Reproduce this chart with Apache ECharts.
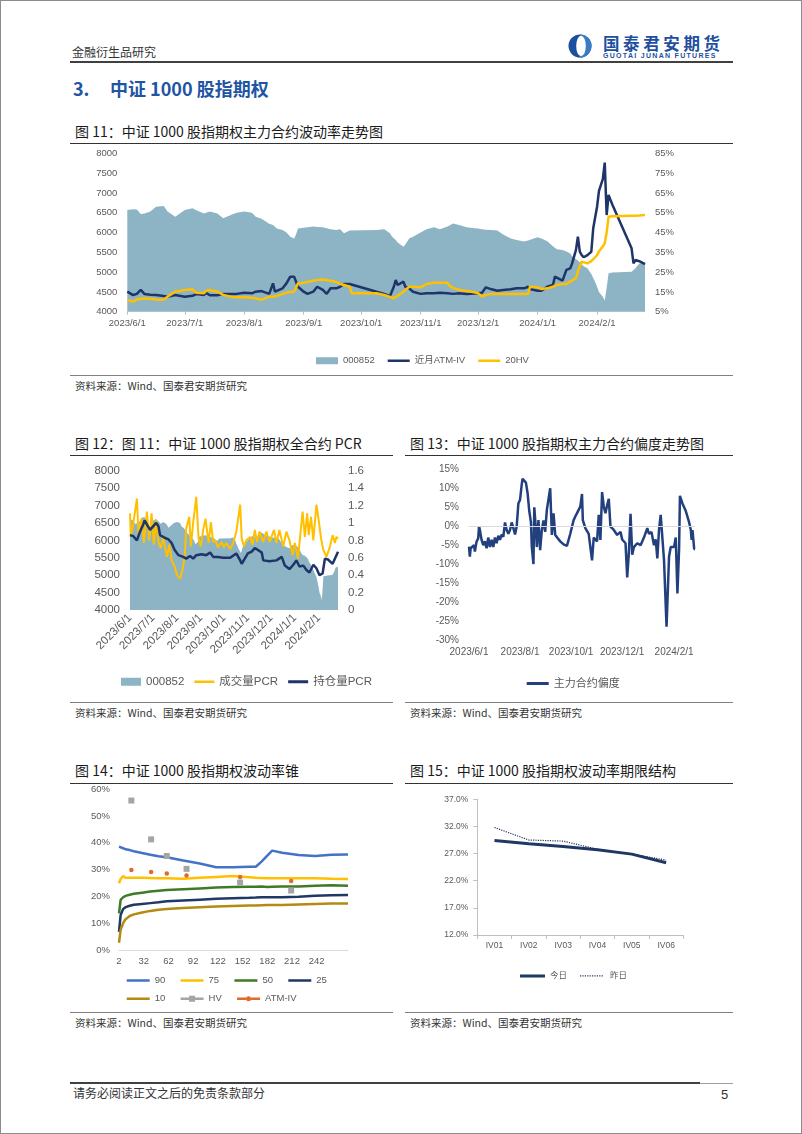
<!DOCTYPE html>
<html lang="zh-CN">
<head>
<meta charset="utf-8">
<title>中证1000股指期权</title>
<script src="https://cdn.jsdelivr.net/npm/echarts@6.0.0/dist/echarts.min.js"></script>
<style>
html,body{margin:0;padding:0;background:#fff;}
body{width:802px;height:1134px;position:relative;overflow:hidden;font-family:"Noto Sans CJK SC","Noto Sans",sans-serif;color:#222;}
#frame{position:absolute;left:0;top:0;width:800px;height:1132px;border:1px solid #8c8c8c;}
.t{position:absolute;white-space:nowrap;line-height:1;transform:translateY(-50%);}
.r{position:absolute;}
.c{position:absolute;}
</style>
</head>
<body>
<div id="frame"></div>

<div class="t" style="left:72px;top:52px;font-size:12px;color:#333;">金融衍生品研究</div>
<svg class="r" style="left:568px;top:34px" width="24" height="24" viewBox="0 0 24 24">
  <circle cx="12" cy="12" r="11.5" fill="#1c4f9f"/>
  <path d="M12 0.5 A11.5 11.5 0 0 1 12 23.5 Z" fill="#3a7cc4"/>
  <ellipse cx="13" cy="12" rx="4.8" ry="10.2" fill="#fff"/>
</svg>
<div class="t" style="left:603px;top:42.5px;font-size:16.5px;font-weight:bold;letter-spacing:3.6px;color:#1e4fa0;">国泰君安期货</div>
<div class="t" style="left:603px;top:55px;font-size:7px;font-weight:bold;letter-spacing:1.3px;color:#1e4fa0;font-family:'Liberation Sans',sans-serif;">GUOTAI JUNAN FUTURES</div>
<div class="r" style="left:70px;top:61px;width:663px;height:1.5px;background:#404040;"></div>

<div class="t" style="left:73px;top:88px;font-size:18px;font-weight:bold;color:#2155a4;">3.</div>
<div class="t" style="left:110px;top:88px;font-size:18px;font-weight:bold;color:#2155a4;">中证 1000 股指期权</div>

<div class="t" style="left:75px;top:131px;font-size:14px;color:#1a1a1a;">图 11：中证 1000 股指期权主力合约波动率走势图</div>
<div class="r" style="left:70px;top:142.5px;width:663px;height:1.5px;background:#333;"></div>
<div id="c11" class="c" style="left:70px;top:145px;width:663px;height:228px;"></div>
<div class="r" style="left:70px;top:375px;width:663px;height:1px;background:#808080;"></div>
<div class="t" style="left:75px;top:386px;font-size:10.5px;color:#333;">资料来源：Wind、国泰君安期货研究</div>

<div class="t" style="left:75px;top:443px;font-size:14px;color:#1a1a1a;">图 12：图 11：中证 1000 股指期权全合约 PCR</div>
<div class="t" style="left:410px;top:443px;font-size:14px;color:#1a1a1a;">图 13：中证 1000 股指期权主力合约偏度走势图</div>
<div class="r" style="left:70px;top:454.5px;width:323px;height:1.5px;background:#333;"></div>
<div class="r" style="left:405px;top:454.5px;width:328px;height:1.5px;background:#333;"></div>
<div id="c12" class="c" style="left:70px;top:458px;width:323px;height:240px;"></div>
<div id="c13" class="c" style="left:405px;top:458px;width:328px;height:240px;"></div>
<div class="r" style="left:70px;top:702px;width:323px;height:1px;background:#808080;"></div>
<div class="r" style="left:405px;top:702px;width:328px;height:1px;background:#808080;"></div>
<div class="t" style="left:75px;top:713px;font-size:10.5px;color:#333;">资料来源：Wind、国泰君安期货研究</div>
<div class="t" style="left:410px;top:713px;font-size:10.5px;color:#333;">资料来源：Wind、国泰君安期货研究</div>

<div class="t" style="left:75px;top:770px;font-size:14px;color:#1a1a1a;">图 14：中证 1000 股指期权波动率锥</div>
<div class="t" style="left:410px;top:770px;font-size:14px;color:#1a1a1a;">图 15：中证 1000 股指期权波动率期限结构</div>
<div class="r" style="left:70px;top:782.5px;width:323px;height:1.5px;background:#333;"></div>
<div class="r" style="left:405px;top:782.5px;width:328px;height:1.5px;background:#333;"></div>
<div id="c14" class="c" style="left:70px;top:775px;width:323px;height:235px;"></div>
<div id="c15" class="c" style="left:405px;top:785px;width:328px;height:220px;"></div>
<div class="r" style="left:70px;top:1012px;width:323px;height:1px;background:#808080;"></div>
<div class="r" style="left:405px;top:1012px;width:328px;height:1px;background:#808080;"></div>
<div class="t" style="left:75px;top:1023px;font-size:10.5px;color:#333;">资料来源：Wind、国泰君安期货研究</div>
<div class="t" style="left:410px;top:1023px;font-size:10.5px;color:#333;">资料来源：Wind、国泰君安期货研究</div>

<div class="r" style="left:70px;top:1082px;width:630px;height:1.5px;background:#404040;"></div>
<div class="r" style="left:700px;top:1082.5px;width:33px;height:1px;background:#a0a0a0;"></div>
<div class="t" style="left:73px;top:1093px;font-size:12px;color:#333;">请务必阅读正文之后的免责条款部分</div>
<div class="t" style="left:721px;top:1094px;font-size:13px;color:#333;font-family:'Liberation Sans',sans-serif;">5</div>

<script>
// ---------- Figure 11: index + near-month ATM IV + 20HV ----------
const dates11 = ['2023-06-01','2023-06-04','2023-06-06','2023-06-08','2023-06-10','2023-06-13','2023-06-16','2023-06-20','2023-06-22','2023-06-26',
'2023-07-01','2023-07-05','2023-07-07','2023-07-11','2023-07-12','2023-07-14','2023-07-18','2023-07-21','2023-07-25','2023-07-28',
'2023-08-01','2023-08-05','2023-08-07','2023-08-10','2023-08-14','2023-08-16','2023-08-17','2023-08-18','2023-08-21','2023-08-23','2023-08-25','2023-08-27','2023-08-28','2023-08-29',
'2023-09-01','2023-09-03','2023-09-06','2023-09-08','2023-09-11','2023-09-13','2023-09-15','2023-09-18','2023-09-20','2023-09-22','2023-09-25','2023-09-26',
'2023-10-09','2023-10-13','2023-10-16','2023-10-17','2023-10-18','2023-10-19','2023-10-20','2023-10-23','2023-10-24','2023-10-26','2023-10-28',
'2023-11-01','2023-11-04','2023-11-08','2023-11-11','2023-11-15','2023-11-16','2023-11-18','2023-11-21','2023-11-25','2023-11-29',
'2023-12-01','2023-12-03','2023-12-05','2023-12-08','2023-12-11','2023-12-14','2023-12-18','2023-12-21','2023-12-25','2023-12-27','2023-12-28',
'2024-01-01','2024-01-03','2024-01-06','2024-01-09','2024-01-10','2024-01-11','2024-01-14','2024-01-15','2024-01-16','2024-01-18','2024-01-19','2024-01-21','2024-01-22','2024-01-23','2024-01-24','2024-01-25','2024-01-27','2024-01-29','2024-01-30','2024-01-31',
'2024-02-01','2024-02-02','2024-02-04','2024-02-05','2024-02-06','2024-02-07','2024-02-08','2024-02-09','2024-02-19','2024-02-20','2024-02-21','2024-02-22','2024-02-23','2024-02-26'];
const index000852 = [6570,6590,6580,6470,6480,6530,6650,6670,6530,6400,
6570,6610,6560,6480,6510,6530,6480,6360,6440,6500,
6530,6500,6400,6350,6220,6190,6150,6100,6060,6000,5890,5850,5950,6100,
6120,6130,6150,6140,6130,6110,6080,6060,6080,5980,6050,6050,
6060,6080,5980,5900,5850,5810,5750,5640,5700,5850,5890,
6000,6080,6130,6080,6150,6200,6230,6190,6130,6110,
6100,6080,6070,6060,6050,5950,5850,5810,5770,5800,5850,
5880,5850,5780,5650,5620,5580,5560,5560,5520,5470,5400,5330,5300,5250,5200,5150,5100,4950,4850,4750,
4630,4500,4380,4280,4600,4970,4990,4990,5010,5050,5100,5150,5220,5240];
const atmIV = [15.1,13.4,14.0,16.0,13.9,13.6,13.4,12.9,12.6,13.4,
12.6,13.0,13.9,13.4,14.6,13.3,13.3,14.0,14.0,14.0,
14.6,14.3,15.1,15.4,14.0,19.3,15.1,16.0,16.8,19.3,22.7,22.7,22.7,17.6,
15.1,14.0,15.1,17.6,16.0,14.0,16.8,16.8,17.6,19.0,19.0,18.6,
15.1,14.0,12.9,12.9,17.6,21.0,18.5,20.2,17.6,16.8,15.1,
14.0,14.3,14.3,14.6,14.3,14.0,14.0,14.3,14.0,14.2,
14.3,14.6,17.3,16.3,15.6,16.0,16.3,16.8,16.8,17.6,16.5,
15.6,15.6,17.6,18.5,22.7,21.8,20.7,20.2,26.1,26.9,29.4,36.2,42.9,35.3,33.6,32.5,33.6,35.3,47.1,47.1,
58.0,66.0,72.0,80.3,53.8,64.0,61.5,59.0,37.0,29.4,31.1,31.4,30.5,29.0];
const hv20 = [11.0,10.1,11.2,11.5,11.7,11.5,11.2,11.0,12.6,15.1,
16.0,16.3,14.6,14.3,15.5,16.0,15.1,13.5,12.6,12.3,
12.3,12.0,11.7,11.0,12.6,12.6,12.6,13.0,14.0,14.6,15.0,15.1,15.1,19.3,
19.6,20.0,20.7,21.0,21.3,21.0,20.6,20.0,19.0,18.5,17.6,14.3,
14.3,13.4,12.5,11.7,11.8,12.2,13.0,15.1,16.0,17.6,17.6,
17.3,19.0,19.6,19.6,19.6,18.0,17.0,16.0,15.5,14.8,
14.3,12.6,13.5,14.0,14.0,14.0,14.0,14.0,14.0,14.0,17.6,
17.3,16.5,16.8,17.6,18.0,18.5,19.0,19.0,19.0,20.2,20.2,22.0,25.2,28.0,30.3,30.0,29.4,30.5,31.1,32.5,
33.6,35.5,38.0,39.5,45.0,53.0,53.2,53.2,53.5,53.5,53.5,53.6,53.6,53.8];

// ---------- Figure 12: PCR ----------
const datesOI = ['2023-06-01','2023-06-05','2023-06-10','2023-06-14','2023-06-18','2023-06-20','2023-06-23','2023-06-27',
'2023-07-01','2023-07-05','2023-07-08','2023-07-10','2023-07-16','2023-07-21','2023-07-25','2023-07-29',
'2023-08-03','2023-08-09','2023-08-13','2023-08-18','2023-08-22','2023-08-26',
'2023-09-02','2023-09-08','2023-09-13','2023-09-17','2023-09-23','2023-09-30',
'2023-10-09','2023-10-17','2023-10-22','2023-10-24','2023-10-28',
'2023-11-01','2023-11-06','2023-11-10','2023-11-14','2023-11-19','2023-11-21','2023-11-29',
'2023-12-08','2023-12-15','2023-12-19','2023-12-25','2023-12-30',
'2024-01-03','2024-01-07','2024-01-12','2024-01-16','2024-01-20','2024-01-25','2024-01-29',
'2024-02-02','2024-02-06','2024-02-09','2024-02-13','2024-02-19','2024-02-24','2024-02-26'];
const pcrOI = [0.86,0.85,0.80,0.90,0.98,1.03,0.98,0.92,
0.96,1.00,0.96,0.86,0.83,0.81,0.77,0.69,
0.63,0.61,0.59,0.62,0.59,0.63,
0.64,0.63,0.66,0.61,0.61,0.60,
0.60,0.65,0.57,0.53,0.59,
0.65,0.67,0.71,0.69,0.66,0.57,0.56,
0.57,0.61,0.51,0.47,0.52,
0.57,0.50,0.51,0.46,0.43,0.52,0.48,
0.40,0.42,0.59,0.58,0.53,0.63,0.67];
const datesVol = ['2023-06-01','2023-06-02','2023-06-05','2023-06-10','2023-06-12','2023-06-16','2023-06-19','2023-06-23','2023-06-26','2023-06-29',
'2023-07-02','2023-07-05','2023-07-08','2023-07-11','2023-07-14','2023-07-19','2023-07-22','2023-07-25','2023-07-29',
'2023-08-01','2023-08-05','2023-08-08','2023-08-11','2023-08-13','2023-08-17','2023-08-19','2023-08-22','2023-08-26','2023-08-29',
'2023-09-01','2023-09-04','2023-09-07','2023-09-11','2023-09-14','2023-09-17','2023-09-20','2023-09-23','2023-09-28',
'2023-10-01','2023-10-04','2023-10-09','2023-10-13','2023-10-17','2023-10-22','2023-10-24','2023-10-27','2023-10-30',
'2023-11-04','2023-11-07','2023-11-10','2023-11-13','2023-11-16','2023-11-21','2023-11-25','2023-11-29',
'2023-12-05','2023-12-08','2023-12-12','2023-12-17','2023-12-21','2023-12-25','2023-12-29',
'2024-01-01','2024-01-05','2024-01-11','2024-01-14','2024-01-17','2024-01-19','2024-01-22','2024-01-25','2024-01-29',
'2024-02-01','2024-02-04','2024-02-07','2024-02-11','2024-02-15','2024-02-19','2024-02-22','2024-02-24','2024-02-26'];
const pcrVol = [1.11,0.84,0.98,1.28,0.88,1.05,0.77,1.13,0.80,1.11,
0.75,1.03,0.78,0.71,0.84,0.61,0.75,0.57,0.50,
0.40,0.36,0.46,0.61,0.94,1.07,0.73,1.00,1.30,0.82,
0.73,0.92,1.05,0.77,1.01,0.78,0.80,0.72,0.78,
0.72,0.77,0.70,0.77,0.90,1.21,0.82,0.73,0.80,
0.84,0.75,0.92,0.78,0.90,0.78,0.90,0.78,
0.92,0.77,0.92,0.73,0.90,0.80,0.63,
0.77,0.59,1.13,0.84,1.11,0.86,1.07,0.80,1.21,
1.03,0.82,0.69,0.61,0.71,0.86,0.77,0.84,0.82];

// ---------- Figure 13: skew ----------
const datesSkew = ['2023-06-01','2023-06-02','2023-06-03','2023-06-05','2023-06-07','2023-06-08','2023-06-10','2023-06-12','2023-06-13','2023-06-14','2023-06-16','2023-06-18','2023-06-20','2023-06-22','2023-06-24','2023-06-26','2023-06-28','2023-06-30',
'2023-07-02','2023-07-04','2023-07-06','2023-07-08','2023-07-10','2023-07-12','2023-07-14','2023-07-16','2023-07-18','2023-07-20','2023-07-22','2023-07-24','2023-07-26','2023-07-28','2023-07-30',
'2023-08-01','2023-08-03','2023-08-04','2023-08-06','2023-08-08','2023-08-10','2023-08-12','2023-08-14','2023-08-15','2023-08-17','2023-08-18','2023-08-20','2023-08-21','2023-08-23','2023-08-25','2023-08-27','2023-08-29','2023-08-31',
'2023-09-02','2023-09-04','2023-09-06','2023-09-08','2023-09-10','2023-09-12','2023-09-14','2023-09-18','2023-09-22','2023-09-26','2023-09-30',
'2023-10-04','2023-10-07','2023-10-10','2023-10-12','2023-10-14','2023-10-15','2023-10-18','2023-10-22','2023-10-24','2023-10-26','2023-10-28',
'2023-11-01','2023-11-03','2023-11-05','2023-11-07','2023-11-09','2023-11-11','2023-11-13','2023-11-15','2023-11-17','2023-11-21','2023-11-25','2023-11-29',
'2023-12-01','2023-12-05','2023-12-07','2023-12-09','2023-12-11','2023-12-13','2023-12-15','2023-12-19','2023-12-23','2023-12-27','2023-12-31',
'2024-01-02','2024-01-05','2024-01-08','2024-01-10','2024-01-12','2024-01-14','2024-01-16','2024-01-18','2024-01-20','2024-01-23','2024-01-26','2024-01-28',
'2024-02-01','2024-02-03','2024-02-05','2024-02-07','2024-02-08','2024-02-11','2024-02-15','2024-02-19','2024-02-21','2024-02-22','2024-02-23','2024-02-25','2024-02-26'];
const skew = [-5.4,-8.0,-5.8,-6.3,-5.0,-6.7,-4.1,-3.2,0.0,-1.0,-3.6,-5.0,-4.0,-5.8,-3.0,-5.5,-3.6,-5.5,
-3.0,-4.5,-2.5,-3.6,-2.2,-2.8,1.0,-1.0,-2.0,-1.0,1.0,-0.5,-2.2,0.0,6.0,
7.0,11.0,12.5,12.3,11.5,8.7,4.0,1.0,-5.4,-10.0,5.0,-1.0,-5.5,1.6,-6.3,-1.0,1.5,-1.5,
4.3,4.7,10.0,-2.3,3.4,-2.3,-2.5,-4.0,-4.8,-5.2,-2.0,
1.6,3.0,4.3,5.2,8.5,1.6,-0.5,-2.0,-1.5,-9.0,-3.0,
-4.0,3.0,-3.6,9.0,5.2,3.4,5.5,7.2,-0.1,-1.0,-2.3,-1.5,
-3.5,-4.5,-13.5,-7.0,3.3,-7.5,-5.5,-4.5,-5.0,-3.0,-0.5,
-2.0,-1.5,-5.0,-3.5,-8.5,-1.0,3.0,2.8,-9.0,-26.5,-8.0,-5.5,
-5.5,-3.0,-17.7,-6.0,8.0,6.0,4.0,1.0,-1.0,-3.6,-1.0,-6.0,-6.0];

// ---------- Figure 14: volatility cone ----------
const coneDays = [2,4,7,10,15,20,30,40,50,60,80,100,120,140,160,168,175,182,188,200,220,240,260,280];
const cone90 = [38.6,38.2,38.0,37.6,37.3,36.9,36.2,35.6,35.0,34.6,33.4,32.3,30.9,30.9,31.1,31.1,33.0,35.2,37.1,36.3,35.5,35.1,35.6,35.7];
const cone75 = [24.9,26.5,27.6,27.0,27.0,27.0,27.0,26.9,26.8,26.8,26.6,27.0,27.3,27.6,27.2,27.0,26.9,26.8,26.8,26.8,26.8,26.8,26.6,26.5];
const cone50 = [13.7,18.7,19.7,20.2,20.6,21.0,21.4,21.8,22.1,22.4,22.7,23.0,23.3,23.5,23.6,23.6,23.7,23.5,23.6,23.7,23.7,24.0,24.2,24.0];
const cone25 = [6.8,13.1,15.3,16.0,16.5,16.9,17.2,17.5,17.8,18.2,18.5,18.8,19.1,19.3,19.5,19.6,19.7,19.7,19.7,19.7,19.9,20.3,20.4,20.5];
const cone10 = [2.7,7.5,10.0,11.5,12.7,13.3,14.0,14.6,15.0,15.3,15.7,16.0,16.2,16.4,16.6,16.6,16.7,16.8,16.8,16.8,17.0,17.2,17.4,17.4];
const tenorDays = [17,41,60,84,149,211];
const hvPoints = [55.8,41.3,35.1,30.3,25.2,22.2];
const atmPoints = [29.9,29.1,28.6,27.8,27.3,25.8];

// ---------- Figure 15: term structure ----------
const termCats = ['IV01','IV02','IV03','IV04','IV05','IV06'];
const termToday = [29.4,28.8,28.3,27.7,26.9,25.3];
const termYesterday = [31.8,29.5,29.3,27.8,26.9,25.8];

// ---------- common ----------
const FONT = '"Liberation Sans","Noto Sans CJK SC",sans-serif';
const GRAY = '#595959';
const AREA = '#8db4c4';
const NAVY = '#1f3468';
const GOLD = '#ffc000';
const DAY = 86400000;
const zip = (xs, ys) => xs.map((x, i) => [x, ys[i]]);
const T0 = new Date(2023, 5, 1).getTime();
const T1 = new Date(2024, 1, 26).getTime();
function monthFmt(v) {
  const d = new Date(v);
  return d.getDate() === 1 ? d.getFullYear() + '/' + (d.getMonth() + 1) + '/1' : '';
}
function monthFmt2(v) {
  const d = new Date(v);
  return (d.getDate() === 1 && (d.getMonth() + 1) % 2 === 0) ? d.getFullYear() + '/' + (d.getMonth() + 1) + '/1' : '';
}
function timeAxis(extra) {
  return Object.assign({
    type: 'time', min: T0, max: T1, splitNumber: 9, minInterval: 28 * DAY, maxInterval: 31 * DAY,
    splitLine: { show: false }
  }, extra);
}
const noLine = { show: false };
const plain = v => String(v);

// legend icon shapes (pure styling)
const corners = (w, h) => `M0 0L0.01 0L0 0.01Z M${w} ${h}L${w - 0.01} ${h}L${w} ${h - 0.01}Z`;
function barIcon(w, h, t) {
  const a = (h - t) / 2, b = a + t;
  return `path://${corners(w, h)} M0 ${a}L${w} ${a}L${w} ${b}L0 ${b}Z`;
}
function dotIcon(w, h, t, step) {
  const a = (h - t) / 2, b = a + t;
  let p = `path://${corners(w, h)}`;
  for (let x = 0; x + t <= w + 0.001; x += step) p += ` M${x} ${a}L${x + t} ${a}L${x + t} ${b}L${x} ${b}Z`;
  return p;
}
function markerIcon(w, h, t, kind, s) {
  const a = (h - t) / 2, b = a + t, cx = w / 2, cy = h / 2, l = cx - s / 2, r = cx + s / 2;
  let p = `path://${corners(w, h)} M0 ${a}L${l} ${a}L${l} ${b}L0 ${b}Z M${r} ${a}L${w} ${a}L${w} ${b}L${r} ${b}Z`;
  if (kind === 'rect') p += ` M${l} ${cy - s / 2}L${r} ${cy - s / 2}L${r} ${cy + s / 2}L${l} ${cy + s / 2}Z`;
  else p += ` M${l} ${cy}A${s / 2} ${s / 2} 0 1 0 ${r} ${cy}A${s / 2} ${s / 2} 0 1 0 ${l} ${cy}Z`;
  return p;
}

// Figure 11
echarts.init(document.getElementById('c11')).setOption({
  animation: false,
  textStyle: { fontFamily: FONT },
  grid: { left: 57.3, top: 8.3, width: 517.7, height: 158.4 },
  legend: {
    left: 241, top: 206, itemWidth: 22, itemHeight: 7, itemGap: 13,
    textStyle: { fontSize: 9.5, color: GRAY, fontFamily: FONT },
    data: [{ name: '000852', icon: 'rect' },
           { name: '近月ATM-IV', icon: barIcon(22, 7, 2.5) },
           { name: '20HV', icon: barIcon(22, 7, 2.5) }]
  },
  xAxis: timeAxis({
    axisLine: { show: true, lineStyle: { color: '#d9d9d9' } },
    axisTick: { show: true, length: 3, lineStyle: { color: '#bfbfbf' } },
    axisLabel: { formatter: monthFmt, fontSize: 9.5, color: GRAY, margin: 7, fontFamily: FONT }
  }),
  yAxis: [
    { type: 'value', min: 4000, max: 8000, interval: 500, splitLine: noLine, axisLine: noLine, axisTick: noLine,
      axisLabel: { formatter: plain, fontSize: 9.5, color: GRAY, margin: 10, fontFamily: FONT } },
    { type: 'value', min: 5, max: 85, interval: 10, position: 'right', splitLine: noLine, axisLine: noLine, axisTick: noLine,
      axisLabel: { formatter: '{value}%', fontSize: 9.5, color: GRAY, margin: 10, fontFamily: FONT } }
  ],
  series: [
    { name: '000852', type: 'line', data: zip(dates11, index000852), symbol: 'none',
      lineStyle: { width: 0 }, itemStyle: { color: AREA }, areaStyle: { color: AREA, opacity: 1, origin: 'start' } },
    { name: '近月ATM-IV', type: 'line', yAxisIndex: 1, data: zip(dates11, atmIV), symbol: 'none',
      lineStyle: { width: 2.5, color: NAVY }, itemStyle: { color: NAVY } },
    { name: '20HV', type: 'line', yAxisIndex: 1, data: zip(dates11, hv20), symbol: 'none',
      lineStyle: { width: 2.5, color: GOLD }, itemStyle: { color: GOLD } }
  ]
});

// Figure 12
echarts.init(document.getElementById('c12')).setOption({
  animation: false,
  textStyle: { fontFamily: FONT },
  grid: { left: 60, top: 12.7, width: 208, height: 139.3 },
  legend: {
    left: 46, top: 213, itemWidth: 20, itemHeight: 8, itemGap: 10,
    textStyle: { fontSize: 11.5, color: GRAY, fontFamily: FONT },
    data: [{ name: '000852', icon: 'rect' },
           { name: '成交量PCR', icon: barIcon(20, 8, 2.5) },
           { name: '持仓量PCR', icon: barIcon(20, 8, 2.8) }]
  },
  xAxis: timeAxis({
    axisLine: noLine, axisTick: noLine,
    axisLabel: { formatter: monthFmt, rotate: 45, fontSize: 11.5, color: GRAY, margin: 6, fontFamily: FONT }
  }),
  yAxis: [
    { type: 'value', min: 4000, max: 8000, interval: 500, splitLine: noLine, axisLine: noLine, axisTick: noLine,
      axisLabel: { formatter: plain, fontSize: 11.5, color: GRAY, margin: 10, fontFamily: FONT } },
    { type: 'value', min: 0, max: 1.6, interval: 0.2, position: 'right', splitLine: noLine, axisLine: noLine, axisTick: noLine,
      axisLabel: { formatter: v => String(+v.toFixed(1)), fontSize: 11.5, color: GRAY, margin: 10, fontFamily: FONT } }
  ],
  series: [
    { name: '000852', type: 'line', data: zip(dates11, index000852), symbol: 'none',
      lineStyle: { width: 0 }, itemStyle: { color: AREA }, areaStyle: { color: AREA, opacity: 1, origin: 'start' } },
    { name: '成交量PCR', type: 'line', yAxisIndex: 1, data: zip(datesVol, pcrVol), symbol: 'none',
      lineStyle: { width: 2, color: GOLD }, itemStyle: { color: GOLD } },
    { name: '持仓量PCR', type: 'line', yAxisIndex: 1, data: zip(datesOI, pcrOI), symbol: 'none',
      lineStyle: { width: 2.5, color: NAVY }, itemStyle: { color: NAVY } }
  ]
});

// Figure 13
const SKEW = '#22407e';
echarts.init(document.getElementById('c13')).setOption({
  animation: false,
  textStyle: { fontFamily: FONT },
  grid: { left: 64, top: 11.3, width: 226, height: 170.7 },
  legend: {
    left: 116.7, top: 215, itemWidth: 22, itemHeight: 8,
    textStyle: { fontSize: 11, color: GRAY, fontFamily: FONT },
    data: [{ name: '主力合约偏度', icon: barIcon(22, 8, 3) }]
  },
  xAxis: timeAxis({
    axisLine: noLine, axisTick: noLine,
    axisLabel: { formatter: monthFmt2, fontSize: 10, color: GRAY, margin: 7, fontFamily: FONT }
  }),
  yAxis: { type: 'value', min: -30, max: 15, interval: 5, splitLine: noLine, axisLine: noLine, axisTick: noLine,
    axisLabel: { formatter: '{value}%', fontSize: 10, color: GRAY, margin: 10, fontFamily: FONT } },
  series: [
    { name: '主力合约偏度', type: 'line', data: zip(datesSkew, skew), symbol: 'none',
      lineStyle: { width: 2.5, color: SKEW }, itemStyle: { color: SKEW },
      markLine: { silent: true, symbol: 'none', label: { show: false },
        lineStyle: { color: '#d9d9d9', width: 1, type: 'solid' }, data: [{ yAxis: 0 }] } }
  ]
});

// Figure 14
const C90 = '#4472c4', C75 = '#ffc000', C50 = '#3e7b27', C25 = '#203864', C10 = '#b38a12', CHV = '#a5a5a5', CATM = '#e06a28';
const coneLine = (name, ys, color) => ({ name, type: 'line', data: zip(coneDays, ys), symbol: 'none',
  lineStyle: { width: 2.5, color }, itemStyle: { color } });
const L14 = barIcon(23, 8, 2.5);
echarts.init(document.getElementById('c14')).setOption({
  animation: false,
  textStyle: { fontFamily: FONT },
  grid: { left: 49, top: 14.3, width: 229, height: 160.7 },
  legend: [
    { left: 51.7, top: 195.7, itemWidth: 23, itemHeight: 8, itemGap: 15.3,
      textStyle: { fontSize: 9.5, color: GRAY, fontFamily: FONT },
      data: [{ name: '90', icon: L14 }, { name: '75', icon: L14 }, { name: '50', icon: L14 }, { name: '25', icon: L14 }] },
    { left: 51.7, top: 214, itemWidth: 23, itemHeight: 8, itemGap: 15.3,
      textStyle: { fontSize: 9.5, color: GRAY, fontFamily: FONT },
      data: [{ name: '10', icon: L14 },
             { name: 'HV', icon: markerIcon(23, 8, 2.5, 'rect', 6) },
             { name: 'ATM-IV', icon: markerIcon(23, 8, 2.5, 'circle', 5) }] }
  ],
  xAxis: { type: 'value', min: 2, max: 280, interval: 30, splitLine: noLine, axisTick: noLine,
    axisLine: { show: true, lineStyle: { color: '#d9d9d9' } },
    axisLabel: { formatter: v => (v > 250 ? '' : String(v)), fontSize: 9.5, color: GRAY, margin: 7, fontFamily: FONT } },
  yAxis: { type: 'value', min: 0, max: 60, interval: 10, splitLine: noLine, axisLine: noLine, axisTick: noLine,
    axisLabel: { formatter: '{value}%', fontSize: 9.5, color: GRAY, margin: 9, fontFamily: FONT } },
  series: [
    coneLine('90', cone90, C90),
    coneLine('75', cone75, C75),
    coneLine('50', cone50, C50),
    coneLine('25', cone25, C25),
    coneLine('10', cone10, C10),
    { name: 'HV', type: 'line', data: zip(tenorDays, hvPoints), symbol: 'rect', symbolSize: 6,
      lineStyle: { width: 2.5, color: CHV, opacity: 0 }, itemStyle: { color: CHV } },
    { name: 'ATM-IV', type: 'line', data: zip(tenorDays, atmPoints), symbol: 'circle', symbolSize: 4.5,
      lineStyle: { width: 2.5, color: CATM, opacity: 0 }, itemStyle: { color: CATM } }
  ]
});

// Figure 15
const C15 = '#203864';
echarts.init(document.getElementById('c15')).setOption({
  animation: false,
  textStyle: { fontFamily: FONT },
  grid: { left: 72.3, top: 14.3, width: 206, height: 135.7 },
  legend: {
    left: 110, top: 181.7, itemWidth: 25, itemHeight: 8, itemGap: 13,
    textStyle: { fontSize: 8.5, color: GRAY, fontFamily: FONT },
    data: [{ name: '今日', icon: barIcon(25, 8, 3) }, { name: '昨日', icon: dotIcon(25, 8, 1.2, 2.4) }]
  },
  xAxis: { type: 'category', data: termCats, boundaryGap: true,
    axisLine: { show: true, lineStyle: { color: '#bfbfbf' } },
    axisTick: { show: true, length: 4, lineStyle: { color: '#bfbfbf' } },
    axisLabel: { fontSize: 8.5, color: GRAY, margin: 6, fontFamily: FONT } },
  yAxis: { type: 'value', min: 12, max: 37, interval: 5, splitLine: noLine,
    axisLine: { show: true, lineStyle: { color: '#bfbfbf' } },
    axisTick: { show: true, length: 4, lineStyle: { color: '#bfbfbf' } },
    axisLabel: { formatter: v => v.toFixed(1) + '%', fontSize: 8.5, color: GRAY, margin: 9, fontFamily: FONT } },
  series: [
    { name: '今日', type: 'line', data: termToday, symbol: 'none',
      lineStyle: { width: 3, color: C15 }, itemStyle: { color: C15 } },
    { name: '昨日', type: 'line', data: termYesterday, symbol: 'none',
      lineStyle: { width: 1.2, color: C15, type: 'dotted' }, itemStyle: { color: C15 } }
  ]
});
</script>
</body>
</html>
